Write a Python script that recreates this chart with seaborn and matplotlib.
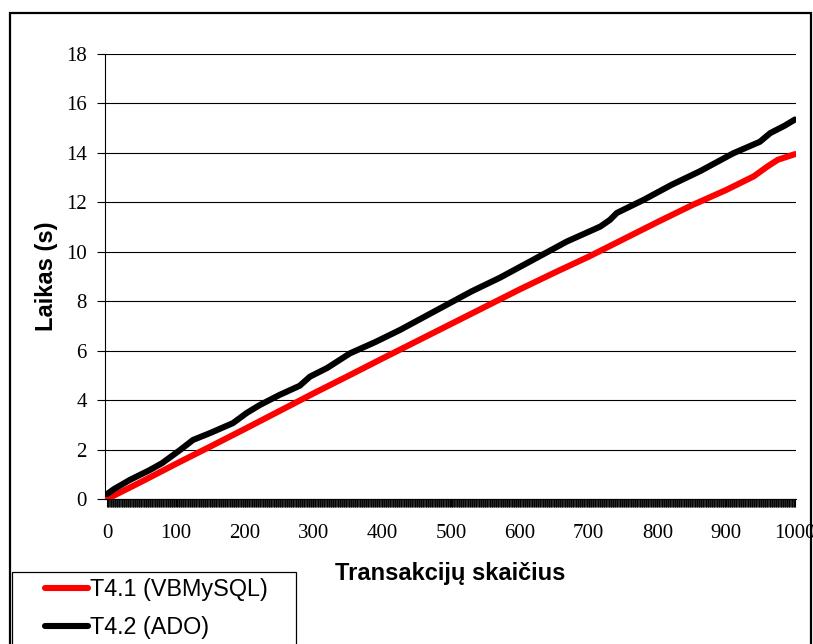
import numpy as np
import pandas as pd
import matplotlib
matplotlib.use("Agg")
import matplotlib.pyplot as plt
from matplotlib.patches import Rectangle
import seaborn as sns

# ---- data ----
series_names = ["T4.1 (VBMySQL)", "T4.2 (ADO)"]
red_x = [0, 50, 100, 150, 200, 250, 300, 350, 400, 450, 500, 550, 600, 650,
         700, 750, 800, 850, 900, 940, 960, 975, 1000]
red_y = [0.0, 0.7, 1.42, 2.12, 2.83, 3.55, 4.27, 4.97, 5.68, 6.38, 7.08, 7.78,
         8.48, 9.15, 9.8, 10.5, 11.2, 11.88, 12.5, 13.05, 13.45, 13.72, 13.95]
black_x = [0, 10, 33, 62, 80, 106, 125, 150, 183, 203, 222, 250, 280, 295, 320,
           353, 390, 426, 460, 498, 530, 571, 619, 668, 717, 731, 741, 780, 820,
           862, 910, 949, 964, 985, 1000]
black_y = [0.2, 0.4, 0.77, 1.17, 1.45, 1.98, 2.39, 2.67, 3.07, 3.48, 3.8, 4.2,
           4.58, 4.95, 5.3, 5.89, 6.35, 6.84, 7.35, 7.92, 8.4, 8.95, 9.67, 10.41,
           11.02, 11.29, 11.57, 12.1, 12.7, 13.26, 13.98, 14.45, 14.8, 15.1, 15.35]
y_ticks = [0, 2, 4, 6, 8, 10, 12, 14, 16, 18]
x_ticks = [0, 100, 200, 300, 400, 500, 600, 700, 800, 900, 1000]
x_label = "Transakcijų skaičius"
y_label = "Laikas (s)"
colors = ["#ff0000", "#000000"]

df = pd.concat([
    pd.DataFrame({"x": red_x, "y": red_y, "series": series_names[0]}),
    pd.DataFrame({"x": black_x, "y": black_y, "series": series_names[1]}),
], ignore_index=True)

sns.set_style("white")
plt.rcParams["font.family"] = ["Liberation Sans", "DejaVu Sans"]
plt.rcParams["text.color"] = "black"
plt.rcParams["axes.labelcolor"] = "black"
plt.rcParams["xtick.color"] = "black"
plt.rcParams["ytick.color"] = "black"

W, H = 813, 644
fig = plt.figure(figsize=(W / 100, H / 100), dpi=100)
ax = fig.add_axes([105 / W, 1 - 499 / H, (796 - 105) / W, (499 - 54) / H])

sns.lineplot(data=df, x="x", y="y", hue="series", palette=colors,
             linewidth=4.4, ax=ax, legend=False, sort=False, zorder=3)
for line in ax.lines:
    line.set_solid_capstyle("round")
    line.set_solid_joinstyle("round")

ax.set_xlim(-3, 1001.5)
ax.set_ylim(0, 18)
ax.set_yticks(y_ticks)
ax.set_xticks(x_ticks)
ax.set_xticks(np.arange(0, 1001, 1), minor=True)
ax.yaxis.grid(True, color="#000000", linewidth=0.8)
ax.set_axisbelow(True)
for s in ["top", "right"]:
    ax.spines[s].set_visible(False)
ax.spines["left"].set_color("#000000")
ax.spines["left"].set_linewidth(0.8)
ax.spines["bottom"].set_color("#000000")
ax.spines["bottom"].set_linewidth(0.8)

serif = ["Liberation Serif", "DejaVu Serif"]
ax.tick_params(axis="y", direction="out", length=6, width=0.8, color="#000000",
               pad=7, labelsize=15, left=True, labelcolor="black")
ax.tick_params(axis="x", which="major", direction="out", length=6, width=0.8,
               color="#000000", pad=12, labelsize=15, bottom=True, labelcolor="black")
ax.tick_params(axis="x", which="minor", direction="out", length=6, width=0.6,
               color="#000000", bottom=True)
for lab in ax.get_xticklabels() + ax.get_yticklabels():
    lab.set_family(serif)

ax.set_xlabel(x_label, fontsize=17, fontweight="bold", labelpad=14, color="black")
ax.set_ylabel(y_label, fontsize=17, fontweight="bold", labelpad=6, color="black")

# outer chart frame
fig.patches.append(Rectangle((10 / W, -0.05), (811 - 10) / W, 1 - 13 / H + 0.05,
                             transform=fig.transFigure, fill=False,
                             edgecolor="#000000", linewidth=1.6, zorder=10))
# legend box
fig.patches.append(Rectangle((12 / W, -0.05), (296 - 12) / W, 1 - 572 / H + 0.05,
                             transform=fig.transFigure, fill=True, facecolor="white",
                             edgecolor="#000000", linewidth=0.9, zorder=11))
handles = ax.lines[:2]
leg = fig.legend(handles, series_names, loc="upper left",
                 bbox_to_anchor=(45 / W, 1 - 578 / H), frameon=False,
                 fontsize=16.8, handlelength=1.85, handletextpad=0.1,
                 labelspacing=0.66, borderaxespad=0, borderpad=0)
leg.set_zorder(12)
for t in leg.get_texts():
    t.set_color("black")

fig.savefig("out.png", dpi=100)
